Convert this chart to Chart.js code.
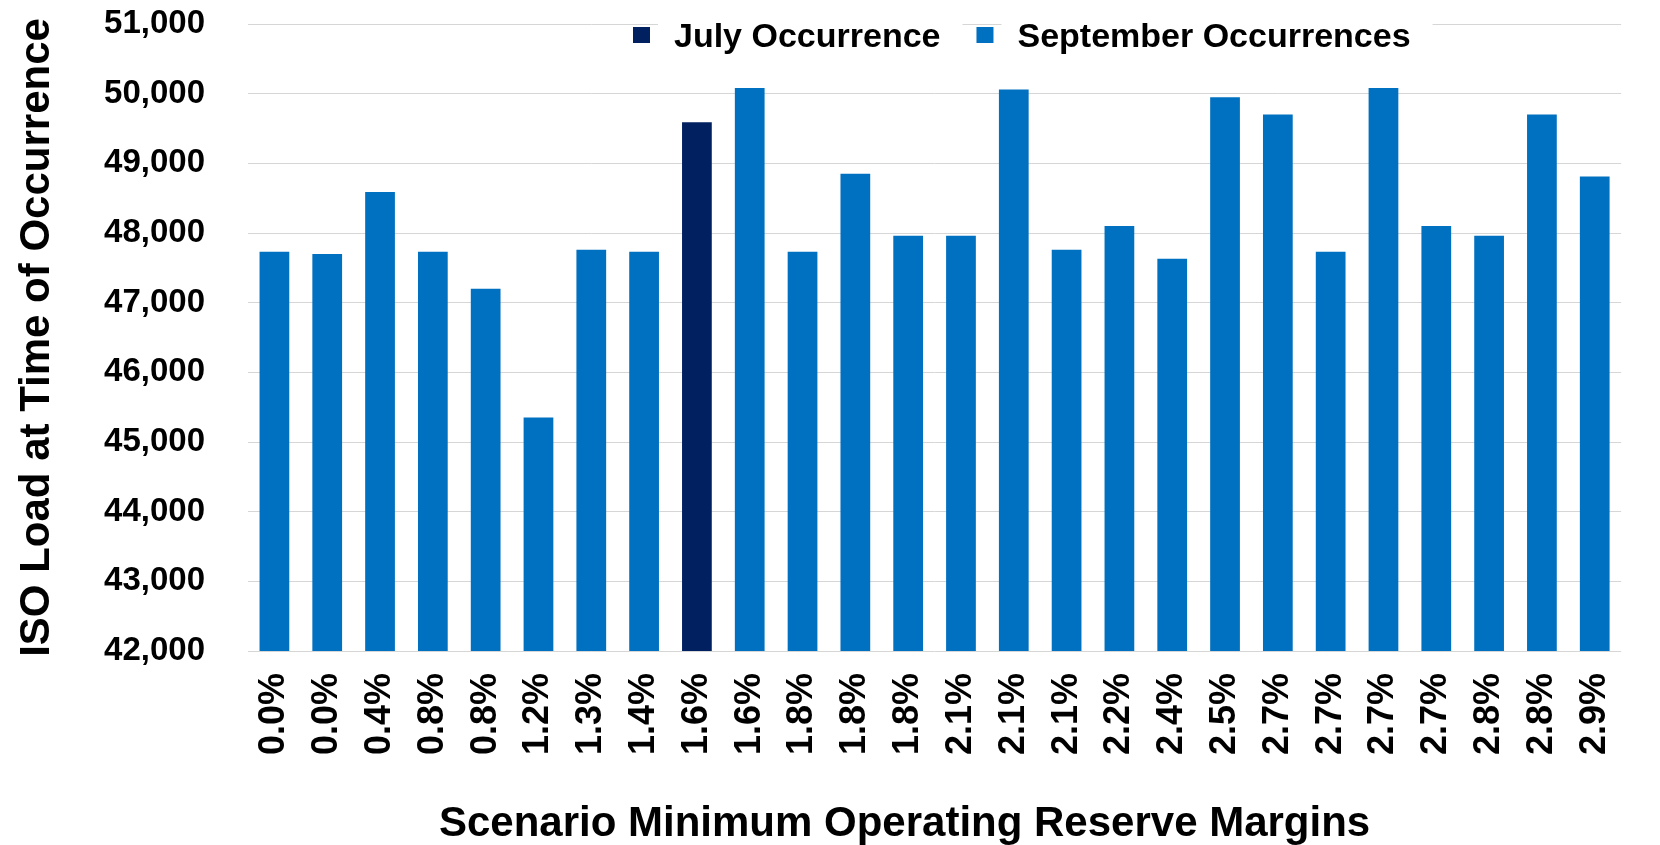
<!DOCTYPE html>
<html>
<head>
<meta charset="utf-8">
<script src="https://cdn.jsdelivr.net/npm/chart.js@4.4.1/dist/chart.umd.min.js"></script>
<style>
  html, body { margin: 0; padding: 0; background: #ffffff; }
  #wrap { width: 1660px; height: 845px; position: relative; }
</style>
</head>
<body>
<div id="wrap"><canvas id="c"></canvas></div>
<script>
// ---- data ----
const categories = ['0.0%','0.0%','0.4%','0.8%','0.8%','1.2%','1.3%','1.4%','1.6%','1.6%',
                    '1.8%','1.8%','1.8%','2.1%','2.1%','2.1%','2.2%','2.4%','2.5%','2.7%',
                    '2.7%','2.7%','2.7%','2.8%','2.8%','2.9%'];
const julyValues = [null,null,null,null,null,null,null,null,49590,null,
                    null,null,null,null,null,null,null,null,null,null,
                    null,null,null,null,null,null];
const septemberValues = [47730,47700,48590,47730,47200,45350,47760,47730,null,50080,
                         47730,48850,47960,47960,50060,47760,48100,47630,49950,49700,
                         47730,50080,48100,47960,49700,48810];
const seriesNames = ['July Occurrence', 'September Occurrences'];
const seriesColors = ['#002060', '#0070C0'];
const yTicks = [42000,43000,44000,45000,46000,47000,48000,49000,50000,51000];
const yTitle = 'ISO Load at Time of Occurrence';
const xTitle = 'Scenario Minimum Operating Reserve Margins';

const FONT = '"Liberation Sans", Arial, Helvetica, sans-serif';

const overlay = {
  id: 'overlay',
  afterDraw(chart) {
    const ctx = chart.ctx;
    const a = chart.chartArea;
    ctx.save();
    // x-axis title
    ctx.font = 'bold 42px ' + FONT;
    ctx.fillStyle = '#000000';
    ctx.textAlign = 'center';
    ctx.textBaseline = 'alphabetic';
    ctx.fillText(xTitle, (a.left + a.right) / 2 - 30, 836);
    // legend
    ctx.font = 'bold 34px ' + FONT;
    ctx.textAlign = 'left';
    let x = 633;
    chart.data.datasets.forEach(ds => {
      const w = ctx.measureText(ds.label).width;
      ctx.fillStyle = '#ffffff';
      ctx.fillRect(x + 25, 12, w + 38, 44);
      ctx.fillStyle = ds.backgroundColor;
      ctx.fillRect(x, 27, 17, 16);
      ctx.fillStyle = '#000000';
      ctx.fillText(ds.label, x + 41, 47);
      x += 41 + w + 36;
    });
    ctx.restore();
  }
};

new Chart(document.getElementById('c'), {
  type: 'bar',
  data: {
    labels: categories,
    datasets: [
      { label: seriesNames[0], data: julyValues, backgroundColor: seriesColors[0],
        grouped: false, barPercentage: 0.563, categoryPercentage: 1.0 },
      { label: seriesNames[1], data: septemberValues, backgroundColor: seriesColors[1],
        grouped: false, barPercentage: 0.563, categoryPercentage: 1.0 }
    ]
  },
  options: {
    responsive: true,
    maintainAspectRatio: false,
    animation: false,
    layout: { padding: { top: 24, right: 4, bottom: 90, left: 0 } },
    plugins: {
      legend: { display: false },
      tooltip: { enabled: false },
      title: { display: false }
    },
    scales: {
      x: {
        offset: true,
        grid: { display: false, drawTicks: false },
        border: { display: false },
        ticks: {
          minRotation: 90, maxRotation: 90, autoSkip: false,
          padding: 22, color: '#000000',
          font: { family: FONT, size: 36, weight: 'bold' }
        },
        afterFit(s) { s.height = 104; }
      },
      y: {
        min: yTicks[0],
        max: yTicks[yTicks.length - 1],
        afterBuildTicks(s) { s.ticks = yTicks.map(v => ({ value: v })); },
        grid: { color: '#d6d6d6', lineWidth: 1, drawTicks: true, tickLength: 43,
                tickColor: 'rgba(0,0,0,0)' },
        border: { display: false },
        ticks: {
          padding: 0, color: '#000000',
          font: { family: FONT, size: 33, weight: 'bold' },
          callback: v => v.toLocaleString('en-US')
        },
        title: {
          display: true, text: yTitle, color: '#000000',
          font: { family: FONT, size: 42, weight: 'bold', lineHeight: 1.2 },
          padding: { top: 12, bottom: 0 }
        },
        afterFit(s) { s.width = 248; }
      }
    }
  },
  plugins: [overlay]
});
</script>
</body>
</html>
